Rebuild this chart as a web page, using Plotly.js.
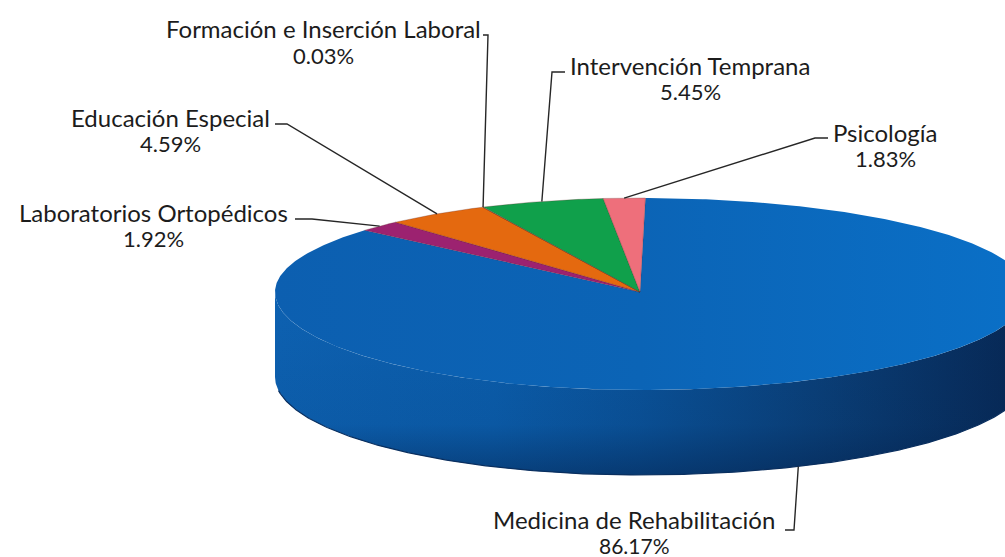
<!DOCTYPE html>
<html>
<head>
<meta charset="utf-8">
<script src="https://cdn.plot.ly/plotly-3.0.1.min.js"></script>
<style>html,body{margin:0;padding:0;background:#fff}#chart{width:1005px;height:557px}</style>
</head>
<body>
<div id="chart"></div>
<script>
// Data, clockwise from the top of the pie
const categories = ["Medicina de Rehabilitación","Laboratorios Ortopédicos","Educación Especial","Formación e Inserción Laboral","Intervención Temprana","Psicología"];
const shares = [86.17,1.92,4.59,0.03,5.45,1.83];
const sliceColors = ["#0b64b6","#9c2270","#e4690f","#d9661a","#10a04b","#ee6f7b"];
// Label centres [x, name y, percent y] and the elbow(s) of each leader line, in page pixels
const labelX = [634,153,170,323,690,885];
const labelNameY = [519,212,117,28,65,132];
const labelPctY = [545,238,143,55,91,158];
const leaderElbowX = [[785,794],[295,312],[275,287],[483,488],[565,552],[828,815]];
const leaderElbowY = [[530,530],[219,219],[124,124],[35,35],[72,72],[138,138]];

// Pie geometry
const cx = 640, cy = 292, rxL = 365, rxR = 388, ryT = 94, ryB = 98, wall = 85, startDeg = 0.8;
const rad = d => d*Math.PI/180;
const ex = d => { const s = Math.sin(rad(d)); return cx + s*(s>=0?rxR:rxL); };
const ey = d => { const c = Math.cos(rad(d)); return cy - c*(c>=0?ryT:ryB); };
const total = shares.reduce((a,b)=>a+b,0);
let cum = 0;
const spans = shares.map(v => { const a = startDeg+cum/total*360; cum += v; return [a, startDeg+cum/total*360]; });
const arc = (a,b,step=0.5) => { const o=[]; const n=Math.max(1,Math.ceil((b-a)/step)); for(let i=0;i<=n;i++) o.push(a+(b-a)*i/n); return o; };

const traces = [];
// Side wall
const front = arc(90,270);
const wallX = front.map(ex).concat(front.slice().reverse().map(ex));
const wallY = front.map(ey).concat(front.slice().reverse().map(d=>ey(d)+wall));
traces.push({type:"scatter",mode:"lines",x:wallX,y:wallY,fill:"toself",line:{color:"rgba(0,0,0,0)",width:0},
  fillgradient:{type:"horizontal",start:275,stop:1005,colorscale:[[0,"#0d61b1"],[0.3,"#0b5dab"],[0.5,"#0a5299"],[0.75,"#0a3f78"],[1,"#072a58"]]},
  hoverinfo:"skip",showlegend:false});
traces.push({type:"scatter",mode:"lines",x:wallX,y:wallY,fill:"toself",line:{color:"rgba(0,0,0,0)",width:0},
  fillgradient:{type:"vertical",start:300,stop:478,colorscale:[[0,"rgba(4,30,70,0)"],[0.7,"rgba(4,30,70,0.08)"],[1,"rgba(4,30,70,0.5)"]]},
  hoverinfo:"skip",showlegend:false});
// Dark rim along the bottom of the wall
const rim = arc(100,262);
traces.push({type:"scatter",mode:"lines",x:rim.map(ex),y:rim.map(d=>ey(d)+wall),line:{color:"#0a2f5f",width:1.2},hoverinfo:"skip",showlegend:false});

// Top face slices
categories.forEach((name,i)=>{
  const t = arc(spans[i][0],spans[i][1]);
  const tr = {type:"scatter",mode:"lines",name:name,
    x:[cx].concat(t.map(ex),[cx]),y:[cy].concat(t.map(ey),[cy]),
    fill:"toself",fillcolor:sliceColors[i],line:{color:i===0?"rgba(0,0,0,0)":"rgba(90,30,30,0.45)",width:i===0?0:0.6},
    text:name+": "+shares[i].toFixed(2)+"%",hoverinfo:"text",showlegend:false};
  if(i===0) tr.fillgradient={type:"horizontal",start:275,stop:1005,colorscale:[[0,"#0c5fb0"],[0.5,"#0b64b6"],[1,"#0a6fc6"]]};
  traces.push(tr);
});

// Leader lines: from the label elbow to the middle of the slice's edge
categories.forEach((name,i)=>{
  const mid = (spans[i][0]+spans[i][1])/2;
  const onWall = i===0;
  traces.push({type:"scatter",mode:"lines",
    x:leaderElbowX[i].concat([ex(mid)]),
    y:leaderElbowY[i].concat([ey(mid)+(onWall?wall:0)]),
    line:{color:"#262626",width:1.4},hoverinfo:"skip",showlegend:false});
});

const nameFont = {family:"Lato, 'Open Sans', sans-serif",size:24,color:"#1c1c1c"};
const pctFont = {family:"Lato, 'Open Sans', sans-serif",size:22,color:"#1c1c1c"};
const pctFontLow = {family:"Lato, 'Open Sans', sans-serif",size:21,color:"#1c1c1c"};
const annotations = [];
categories.forEach((name,i)=>{
  annotations.push({xref:"x",yref:"y",x:labelX[i],y:labelNameY[i],text:name,showarrow:false,font:nameFont,xanchor:"center",yanchor:"middle"});
  annotations.push({xref:"x",yref:"y",x:labelX[i],y:labelPctY[i],text:shares[i].toFixed(2)+"%",showarrow:false,font:i===0?pctFontLow:pctFont,xanchor:"center",yanchor:"middle"});
});

Plotly.newPlot("chart",traces,{
  width:1005,height:557,margin:{l:0,r:0,t:0,b:0},
  paper_bgcolor:"#ffffff",plot_bgcolor:"#ffffff",showlegend:false,
  xaxis:{range:[0,1005],visible:false,fixedrange:true},
  yaxis:{range:[557,0],visible:false,fixedrange:true},
  annotations:annotations
},{displayModeBar:false});
</script>
</body>
</html>
